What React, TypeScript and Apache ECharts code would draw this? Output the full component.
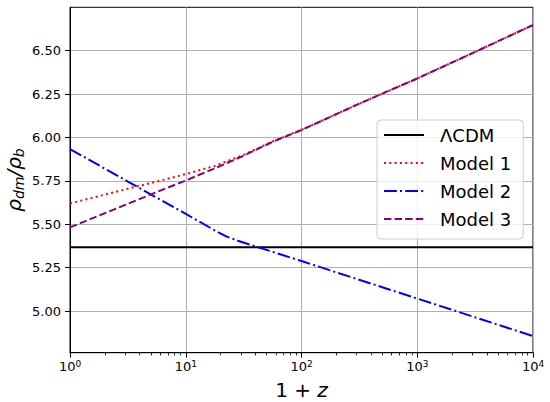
import React, { useEffect, useRef } from "react";
import * as echarts from "echarts";

const FONT = "DejaVu Sans";

// 1 + z values and rho_dm / rho_b values
const lcdmX = [1, 10000];
const lcdmY = [5.367, 5.367];

const model1X = [1, 1.778, 3.162, 5.623, 10, 17.78, 31.62, 56.23, 100, 316.2, 1000, 3162, 10000];
const model1Y = [5.62, 5.662, 5.705, 5.746, 5.789, 5.836, 5.9, 5.977, 6.044, 6.195, 6.34, 6.493, 6.648];

const model2X = [1, 3.162, 10, 17.78, 22.39, 28.18, 100, 1000, 10000];
const model2Y = [5.933, 5.746, 5.56, 5.465, 5.43, 5.405, 5.288, 5.072, 4.856];

const model3X = [1, 1.778, 3.162, 5.623, 10, 17.78, 31.62, 56.23, 100, 316.2, 1000, 3162, 10000];
const model3Y = [5.482, 5.55, 5.618, 5.686, 5.752, 5.822, 5.895, 5.975, 6.043, 6.195, 6.34, 6.493, 6.648];

const legendNames = ["ΛCDM", "Model 1", "Model 2", "Model 3"];

const xMajorTicks = [1, 10, 100, 1000, 10000];
const xMinorTicks = [
  2, 3, 4, 5, 6, 7, 8, 9,
  20, 30, 40, 50, 60, 70, 80, 90,
  200, 300, 400, 500, 600, 700, 800, 900,
  2000, 3000, 4000, 5000, 6000, 7000, 8000, 9000,
];
const yTicks = [5.0, 5.25, 5.5, 5.75, 6.0, 6.25, 6.5];

const zip = (xs: number[], ys: number[]) => xs.map((x, i) => [x, ys[i]]);

export default function App() {
  const ref = useRef<HTMLDivElement>(null);

  useEffect(() => {
    document.body.style.margin = "0";
    if (!ref.current) return;
    const chart = echarts.init(ref.current, undefined, { renderer: "svg" });

    const baseLine = { width: 2, cap: "butt" as const };

    chart.setOption({
      animation: false,
      grid: {
        left: 70,
        right: 17,
        top: 7.3,
        bottom: 49.3,
        show: true,
        borderColor: "#000",
        borderWidth: 1,
        backgroundColor: "transparent",
        containLabel: false,
        outerBoundsMode: "none",
      },
      legend: {
        orient: "vertical",
        left: 377,
        top: 120,
        itemWidth: 40,
        itemHeight: 14,
        itemGap: 8,
        padding: [5, 12, 10, 6],
        backgroundColor: "rgba(255,255,255,0.8)",
        borderColor: "#cccccc",
        borderWidth: 1,
        borderRadius: 4,
        selectedMode: false,
        itemStyle: { opacity: 0, borderWidth: 0 },
        textStyle: {
          fontSize: 18,
          fontFamily: FONT,
          color: "#000",
          lineHeight: 20,
          padding: [0, 0, 0, 11],
        },
        data: legendNames,
      },
      xAxis: [
        {
          type: "log",
          logBase: 10,
          min: 1,
          max: 10000,
          position: "bottom",
          axisLine: { show: true, onZero: false, lineStyle: { color: "#000", width: 1 } },
          axisTick: { show: true, customValues: xMajorTicks, length: 5, lineStyle: { color: "#000", width: 1 } },
          axisLabel: {
            customValues: xMajorTicks,
            margin: 7,
            formatter: (v: number) => `{b|10}{s|${Math.round(Math.log10(v))}}`,
            rich: {
              b: { fontSize: 13, fontFamily: FONT, color: "#000", lineHeight: 13, verticalAlign: "bottom" },
              s: { fontSize: 9, fontFamily: FONT, color: "#000", lineHeight: 10, padding: [0, 0, 6, 0], verticalAlign: "top" },
            },
          },
          splitLine: { show: true, lineStyle: { color: "#b0b0b0", width: 1 } },
          name: "{n|1 + }{i|z}",
          nameLocation: "middle",
          nameGap: 24,
          nameTextStyle: {
            rich: {
              n: { fontSize: 20, fontFamily: FONT, color: "#000" },
              i: { fontSize: 20, fontFamily: FONT, fontStyle: "italic", color: "#000" },
            },
          },
        },
        {
          type: "log",
          logBase: 10,
          min: 1,
          max: 10000,
          position: "bottom",
          axisLine: { show: false, onZero: false },
          axisTick: { show: true, customValues: xMinorTicks, length: 2.8, lineStyle: { color: "#000", width: 0.8 } },
          axisLabel: { show: false },
          splitLine: { show: false },
        },
      ],
      yAxis: {
        type: "value",
        min: 4.76,
        max: 6.75,
        axisLine: { show: true, lineStyle: { color: "#000", width: 1 } },
        axisTick: { show: true, customValues: yTicks, length: 5, lineStyle: { color: "#000", width: 1 } },
        axisLabel: {
          customValues: yTicks,
          formatter: (v: number) => v.toFixed(2),
          fontSize: 13,
          fontFamily: FONT,
          color: "#000",
          margin: 9,
        },
        splitLine: { show: true, lineStyle: { color: "#b0b0b0", width: 1 } },
        name: "{r|ρ}{s|dm}{r|/ρ}{s|b}",
        nameLocation: "middle",
        nameRotate: 90,
        nameGap: 44,
        nameMoveOverlap: false,
        nameTextStyle: {
          rich: {
            r: { fontSize: 20, fontStyle: "italic", fontFamily: FONT, color: "#000", lineHeight: 22, verticalAlign: "top" },
            s: { fontSize: 14, fontStyle: "italic", fontFamily: FONT, color: "#000", lineHeight: 14, padding: [10, 0, 0, 0], verticalAlign: "bottom" },
          },
        },
      },
      series: [
        {
          name: legendNames[0],
          type: "line",
          data: zip(lcdmX, lcdmY),
          symbol: "none",
          silent: true,
          lineStyle: { ...baseLine, color: "#000000", type: "solid" },
          itemStyle: { color: "#000000" },
        },
        {
          name: legendNames[1],
          type: "line",
          data: zip(model1X, model1Y),
          symbol: "none",
          silent: true,
          lineStyle: { ...baseLine, color: "#ff0000", type: [2, 3.3] },
          itemStyle: { color: "#ff0000" },
        },
        {
          name: legendNames[2],
          type: "line",
          data: zip(model2X, model2Y),
          symbol: "none",
          silent: true,
          lineStyle: { ...baseLine, color: "#0000ff", type: [12.8, 3.2, 2, 3.2] },
          itemStyle: { color: "#0000ff" },
        },
        {
          name: legendNames[3],
          type: "line",
          data: zip(model3X, model3Y),
          symbol: "none",
          silent: true,
          lineStyle: { ...baseLine, color: "#800080", type: [7.4, 3.2] },
          itemStyle: { color: "#800080" },
        },
      ],
    });

    return () => chart.dispose();
  }, []);

  return <div ref={ref} style={{ width: 550, height: 402 }} />;
}
